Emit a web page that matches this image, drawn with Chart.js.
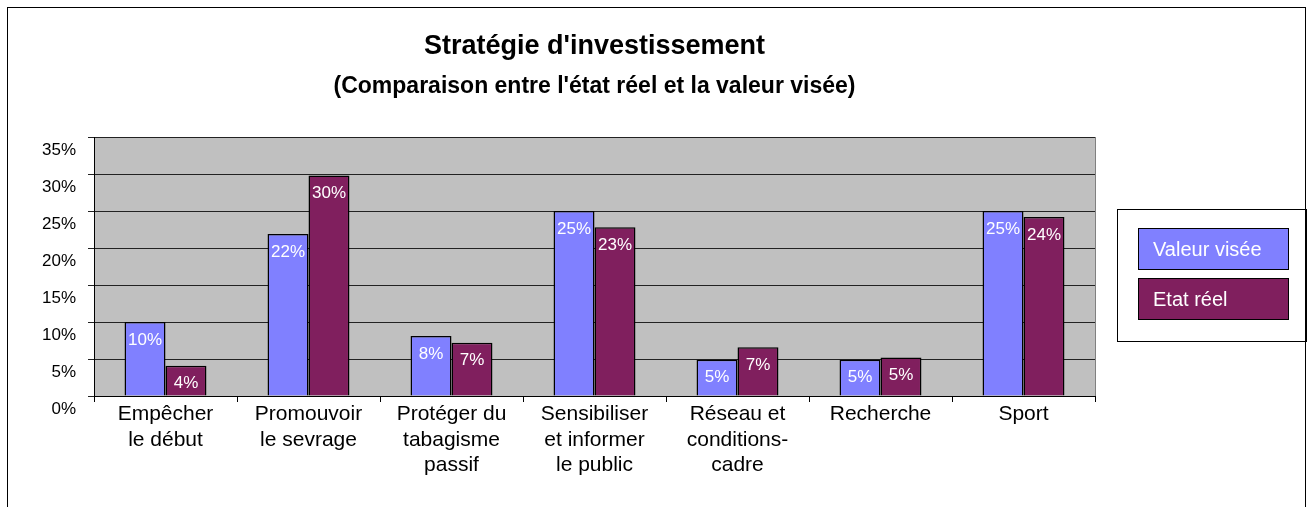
<!DOCTYPE html>
<html lang="fr">
<head>
<meta charset="utf-8">
<title>Stratégie d'investissement</title>
<script src="https://cdn.jsdelivr.net/npm/chart.js@4.4.0/dist/chart.umd.min.js"></script>
<style>
    html, body { margin: 0; padding: 0; background: #fff; }
    #wrap { position: relative; width: 1315px; height: 507px; }
</style>
</head>
<body>
<div id="wrap"><canvas id="strategieChart" width="1315" height="507"></canvas></div>
<script>
const categories = [
    ['Empêcher', 'le début'],
    ['Promouvoir', 'le sevrage'],
    ['Protéger du', 'tabagisme', 'passif'],
    ['Sensibiliser', 'et informer', 'le public'],
    ['Réseau et', 'conditions-', 'cadre'],
    'Recherche',
    'Sport'
];
const valeurVisee = [10, 21.9, 8.1, 25, 4.9, 4.9, 25];
const etatReel = [4.1, 29.8, 7.2, 22.8, 6.6, 5.2, 24.2];
const yTickMax = 35;
const yTickStep = 5;

const FONT = '"Liberation Sans", Arial, sans-serif';

// fond gris de la zone de tracé + cadre extérieur
var plotBackground = {
    id: 'plotBackground',
    beforeDraw: function(chart) {
        const ctx = chart.ctx;
        const a = chart.chartArea;
        ctx.save();
        ctx.fillStyle = '#fff';
        ctx.fillRect(0, 0, chart.width, chart.height);
        ctx.strokeStyle = '#000';
        ctx.lineWidth = 1;
        ctx.strokeRect(7.5, 7.5, chart.width - 17, chart.height + 10);
        ctx.fillStyle = '#c0c0c0';
        ctx.fillRect(a.left, a.top, a.right - a.left, a.bottom - a.top);
        ctx.strokeStyle = '#808080';
        ctx.beginPath();
        ctx.moveTo(a.right + 0.5, a.top);
        ctx.lineTo(a.right + 0.5, a.bottom);
        ctx.stroke();
        ctx.restore();
    }
};

// étiquettes de valeur en blanc dans le haut des barres
var barValues = {
    id: 'barValues',
    afterDatasetsDraw: function(chart) {
        const ctx = chart.ctx;
        ctx.save();
        ctx.fillStyle = '#fff';
        ctx.font = '17px ' + FONT;
        ctx.textAlign = 'center';
        ctx.textBaseline = 'middle';
        chart.data.datasets.forEach(function(ds, i) {
            chart.getDatasetMeta(i).data.forEach(function(bar, j) {
                ctx.fillText(Math.round(ds.data[j]) + '%', bar.x, bar.y + 18);
            });
        });
        ctx.restore();
    }
};

// légende encadrée à droite, style Excel
var boxLegend = {
    id: 'boxLegend',
    afterDraw: function(chart) {
        const ctx = chart.ctx;
        const a = chart.chartArea;
        const left = a.right + 22;
        const top = 209;
        const right = chart.width - 9;
        const bottom = 341;
        ctx.save();
        ctx.lineWidth = 1;
        ctx.strokeStyle = '#000';
        ctx.strokeRect(left + 0.5, top + 0.5, right - left, bottom - top);
        chart.data.datasets.forEach(function(ds, i) {
            const y = top + 19 + i * 50;
            ctx.fillStyle = ds.backgroundColor;
            ctx.fillRect(left + 21, y, 150, 41);
            ctx.strokeRect(left + 21.5, y + 0.5, 150, 41);
            ctx.fillStyle = '#fff';
            ctx.font = '20px ' + FONT;
            ctx.textAlign = 'left';
            ctx.textBaseline = 'middle';
            ctx.fillText(ds.label, left + 36, y + 22);
        });
        ctx.restore();
    }
};

const ctx = document.getElementById('strategieChart').getContext('2d');
const strategieChart = new Chart(ctx, {
    type: 'bar',
    data: {
        labels: categories,
        datasets: [{
            label: 'Valeur visée',
            data: valeurVisee,
            backgroundColor: '#8080ff',
            borderColor: '#000',
            borderWidth: 1.5
        }, {
            label: 'Etat réel',
            data: etatReel,
            backgroundColor: '#801f5e',
            borderColor: '#000',
            borderWidth: 1.5
        }]
    },
    options: {
        responsive: false,
        devicePixelRatio: 1,
        animation: false,
        layout: {
            padding: { left: 0, right: 220, top: 0, bottom: 0 }
        },
        datasets: {
            bar: {
                categoryPercentage: 0.573,
                barPercentage: 1
            }
        },
        scales: {
            x: {
                afterFit: function(scale) { scale.height = 111; },
                grid: {
                    offset: true,
                    drawOnChartArea: false,
                    drawTicks: true,
                    tickLength: 6,
                    color: '#000'
                },
                border: { color: '#000', width: 1 },
                ticks: {
                    color: '#000',
                    padding: 0,
                    maxRotation: 0,
                    autoSkip: false,
                    font: { family: FONT, size: 21, lineHeight: 1.2 }
                }
            },
            y: {
                min: 0,
                max: yTickMax,
                afterFit: function(scale) { scale.width = 94; },
                grid: {
                    color: '#222',
                    lineWidth: 1,
                    tickLength: 6
                },
                border: { color: '#000', width: 1 },
                ticks: {
                    stepSize: yTickStep,
                    color: '#000',
                    padding: 12,
                    labelOffset: 13,
                    font: { family: FONT, size: 17 },
                    callback: function(value) { return value + '%'; }
                }
            }
        },
        plugins: {
            legend: { display: false },
            tooltip: { enabled: false },
            title: {
                display: true,
                fullSize: false,
                text: "Stratégie d'investissement",
                color: '#000',
                font: { family: FONT, size: 27, weight: 'bold', lineHeight: 1.2 },
                padding: { top: 30, bottom: 0 }
            },
            subtitle: {
                display: true,
                fullSize: false,
                text: "(Comparaison entre l'état réel et la valeur visée)",
                color: '#000',
                font: { family: FONT, size: 23, weight: 'bold', lineHeight: 1.2 },
                padding: { top: 10, bottom: 37 }
            }
        }
    },
    plugins: [plotBackground, barValues, boxLegend]
});
</script>
</body>
</html>
